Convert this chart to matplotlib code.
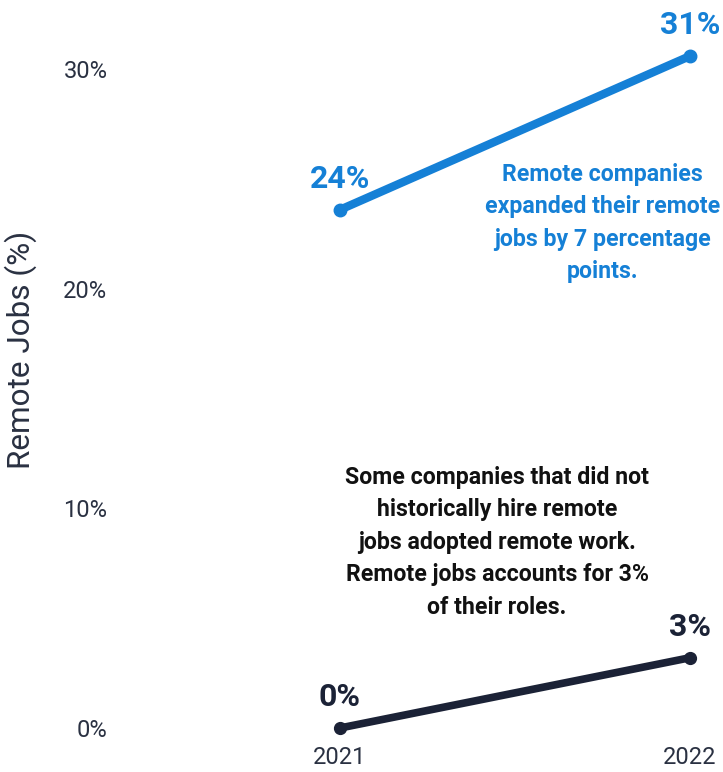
import matplotlib.pyplot as plt

# Share of jobs that are remote, by company group
years = ["2021", "2022"]
remote_companies = [23.6, 30.6]
other_companies = [0.0, 3.2]
yticks = [0, 10, 20, 30]

blue = "#1580d6"
navy = "#1b2236"
tick_color = "#2a3142"

plt.rcParams["font.family"] = ["Roboto", "DejaVu Sans"]

fig = plt.figure(figsize=(7.23, 7.72), dpi=100)
ax = fig.add_axes([120 / 723, 37 / 772, 580 / 723, 730 / 772])

x = list(range(len(years)))
ax.plot(x, remote_companies, color=blue, lw=6, marker="o", ms=9,
        solid_capstyle="round")
ax.plot(x, other_companies, color=navy, lw=5.5, marker="o", ms=8.5,
        solid_capstyle="round")

# value labels above each point
for xi, v in zip(x, remote_companies):
    ax.annotate(f"{round(v)}%", (xi, v), xytext=(0, 22), textcoords="offset points",
                ha="center", va="center", fontsize=23, fontweight="bold", color=blue)
for xi, v in zip(x, other_companies):
    ax.annotate(f"{round(v)}%", (xi, v), xytext=(0, 22), textcoords="offset points",
                ha="center", va="center", fontsize=23, fontweight="bold", color=navy)

ax.text(0.749, 23.0, "Remote companies\nexpanded their remote\njobs by 7 percentage\npoints.",
        ha="center", va="center", fontsize=16.7, fontweight="bold", color=blue,
        linespacing=1.53)
ax.text(0.449, 8.45, "Some companies that did not\nhistorically hire remote\njobs adopted remote work.\n"
        "Remote jobs accounts for 3%\nof their roles.",
        ha="center", va="center", fontsize=16.7, fontweight="bold", color="#111111",
        linespacing=1.53)

ax.set_xlim(-220 / 350, 1 + 10 / 350)
ax.set_ylim(-7 / 21.96, 723 / 21.96)
ax.set_xticks(x)
ax.set_xticklabels(years)
ax.set_yticks(yticks)
ax.set_yticklabels([f"{t}%" for t in yticks])
ax.tick_params(axis="both", length=0, labelsize=17, colors=tick_color)
ax.tick_params(axis="y", pad=9)
ax.tick_params(axis="x", pad=8)
ax.set_ylabel("Remote Jobs (%)", fontsize=22.7, color=tick_color)
ax.yaxis.set_label_coords(-0.143, 0.527)

for s in ax.spines.values():
    s.set_visible(False)

fig.savefig("out.png", dpi=100)
